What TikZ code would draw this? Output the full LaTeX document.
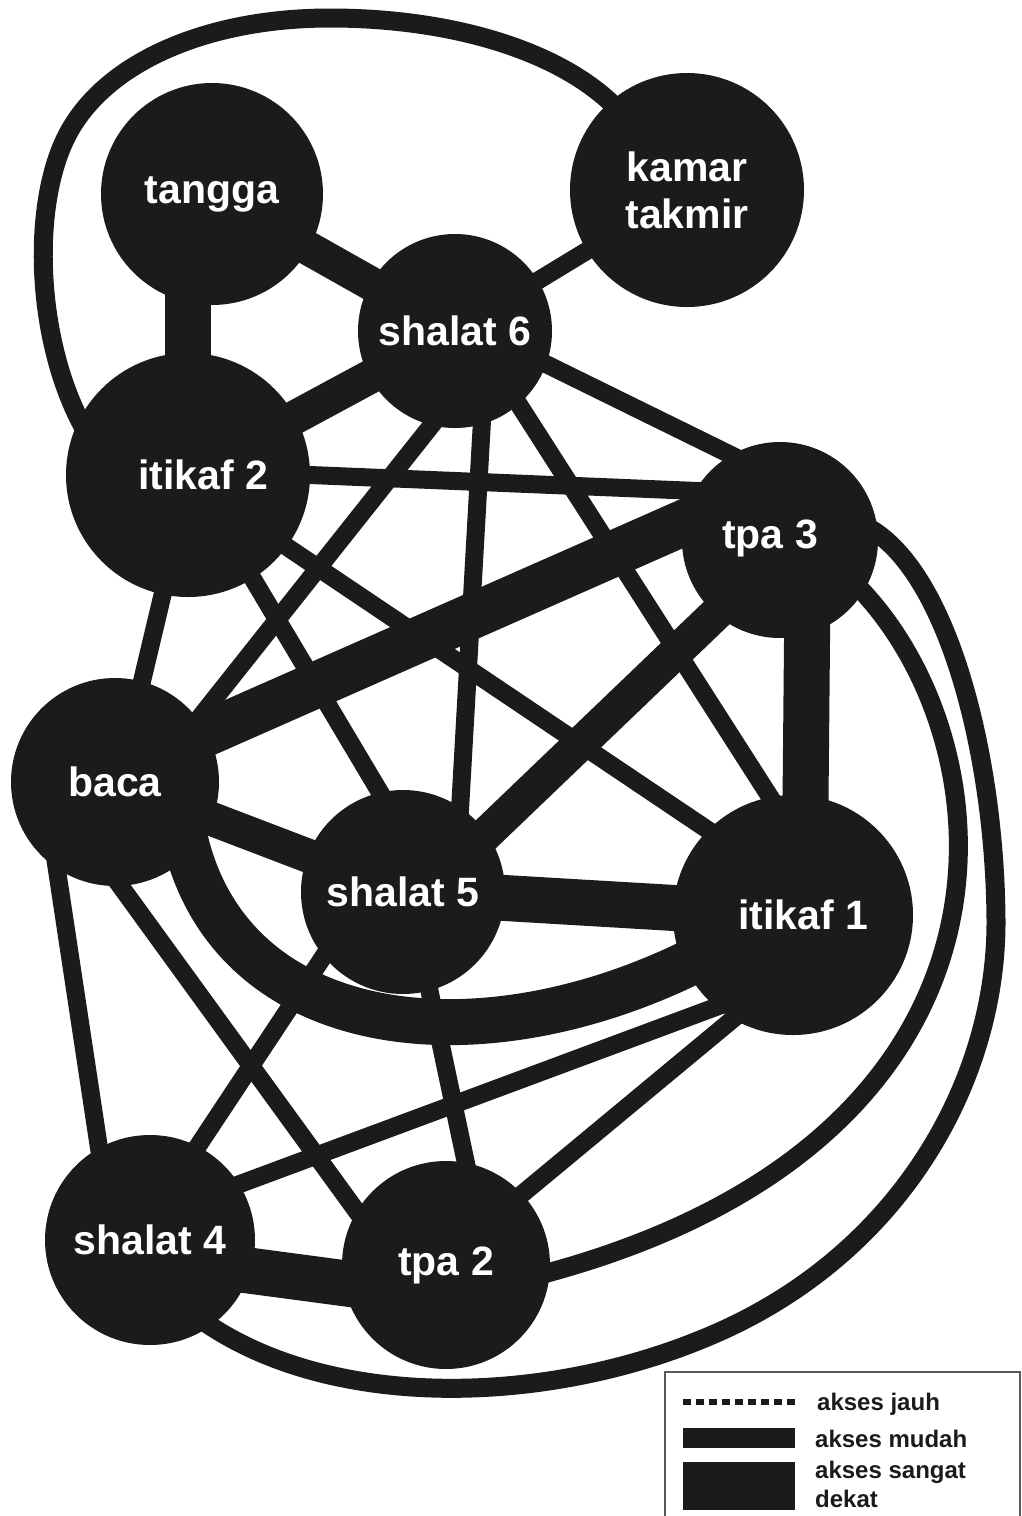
\documentclass[tikz,border=0pt]{standalone}
\usepackage{fontspec}
\setmainfont{Liberation Sans}
\usetikzlibrary{backgrounds,calc}
\definecolor{ink}{RGB}{28,26,27}
\begin{document}
\begin{tikzpicture}[x=1pt,y=-1pt,
  place/.style={circle,fill=ink,inner sep=0pt,minimum size=#1,text=white,
    font=\bfseries\fontsize{41}{47}\selectfont,align=center},
  lbl/.style={text=white,inner sep=0pt,font=\bfseries\fontsize{41}{47}\selectfont,align=center},
  link/.style={draw=ink,line width=#1,shorten <=-20pt,shorten >=-20pt},
  mudah/.style={link=18pt},
  sedang/.style={link=34pt},
  dekat/.style={link=46pt},
  curve/.style={draw=ink,line width=19pt,shorten <=-10pt,shorten >=-10pt},
  leg/.style={text=ink,inner sep=0pt,font=\bfseries\fontsize{24}{28}\selectfont,align=left}]
\useasboundingbox (0,0) rectangle (1021,1516);

% nodes
\node[place=222pt] (tg) at (212,194) {tangga};
\node[place=234pt] (km) at (687,190) {kamar\\takmir};
\node[place=194pt] (s6) at (455,331) {shalat 6};
\node[place=244pt] (i2) at (188,475) {};
\node[lbl] (i2t) at (203,475) {itikaf 2};
\node[place=196pt] (t3) at (780,540) {};
\node[lbl] (t3t) at (770,538) {tpa 3};
\node[place=208pt] (bc) at (115,782) {baca};
\node[place=204pt] (s5) at (403,892) {shalat 5};
\node[place=240pt] (i1) at (793,915) {};
\node[lbl] (i1t) at (803,915) {itikaf 1};
\node[place=210pt] (s4) at (150,1240) {shalat 4};
\node[place=208pt] (t2) at (446,1265) {tpa 2};

\begin{scope}[on background layer]
  % very close access
  \draw[dekat] (i2 |- tg) -- (i2);
  \draw[dekat] (bc.28) -- (t3.170);
  \draw[dekat] (t3.-74) -- (i1.84);
  \draw[dekat] (s5) -- (i1);
  \draw[dekat] (s4.-17) -- (t2.-170);
  \draw[draw=ink,line width=46pt,shorten <=-20pt,shorten >=-20pt]
    (bc.-45) .. controls (230,1040) and (480,1070) .. (i1.-155);
  % medium
  \draw[sedang] (tg) -- (s6);
  \draw[sedang] (s6) -- (i2);
  \draw[sedang] (t3.-131) -- (s5.35);
  \draw[sedang] (bc) -- (s5);
  % easy access
  \draw[mudah] (km) -- (s6);
  \draw[mudah] (s6.-20) -- (t3.120);
  \draw[mudah] (s6.-104) -- (bc.37);
  \draw[mudah] (s6.-74) -- (s5.56);
  \draw[mudah] (s6.-49) -- (i1.101);
  \draw[mudah] (i2.0) -- (t3.150);
  \draw[mudah] (i2.-102) -- (bc.75);
  \draw[mudah] (i2.-58) -- (s5.103);
  \draw[mudah] (i2.-36) -- (i1.135);
  \draw[mudah] (bc.-124) -- (s4.119);
  \draw[mudah] (bc.-87) -- (t2.149);
  \draw[mudah] (s5.-141) -- (s4.63);
  \draw[mudah] (s5.-75) -- (t2.79);
  \draw[mudah] (i1.-130) -- (s4.32);
  \draw[mudah] (i1.-120) -- (t2.43);
  % curved connectors
  \draw[curve] (t3.-32) .. controls (1010,740) and (1050,1140) .. (t2.-4);
  \draw[curve] (t3.4) .. controls (950,575) and (995,760) .. (996,920)
    .. controls (997,1080) and (900,1260) .. (700,1340)
    .. controls (540,1405) and (330,1410) .. (s4.-55);
  \draw[curve] (i2.153) .. controls (35,340) and (30,200) .. (70,130)
    .. controls (110,60) and (210,18) .. (330,18)
    .. controls (450,18) and (560,50) .. (km.131);
\end{scope}

% legend
\draw[black!65,line width=1.5pt] (665,1516) -- (665,1372) -- (1020,1372) -- (1020,1516);
\coordinate (lj) at (683,1402);
\coordinate (lj2) at (795,1402);
\draw[ink,line width=6pt,dash pattern=on 8pt off 5pt] (lj) -- (lj2);
\fill[ink] (683,1428) rectangle (795,1448);
\fill[ink] (683,1462) rectangle (795,1510);
\node[leg,anchor=base west] (lg1) at (817,1410) {akses jauh};
\node[leg,anchor=base west] (lg2) at (815,1447) {akses mudah};
\node[leg,anchor=base west] (lg3) at (815,1478) {akses sangat};
\node[leg,anchor=base west] (lg4) at (815,1507) {dekat};
\end{tikzpicture}
\end{document}
